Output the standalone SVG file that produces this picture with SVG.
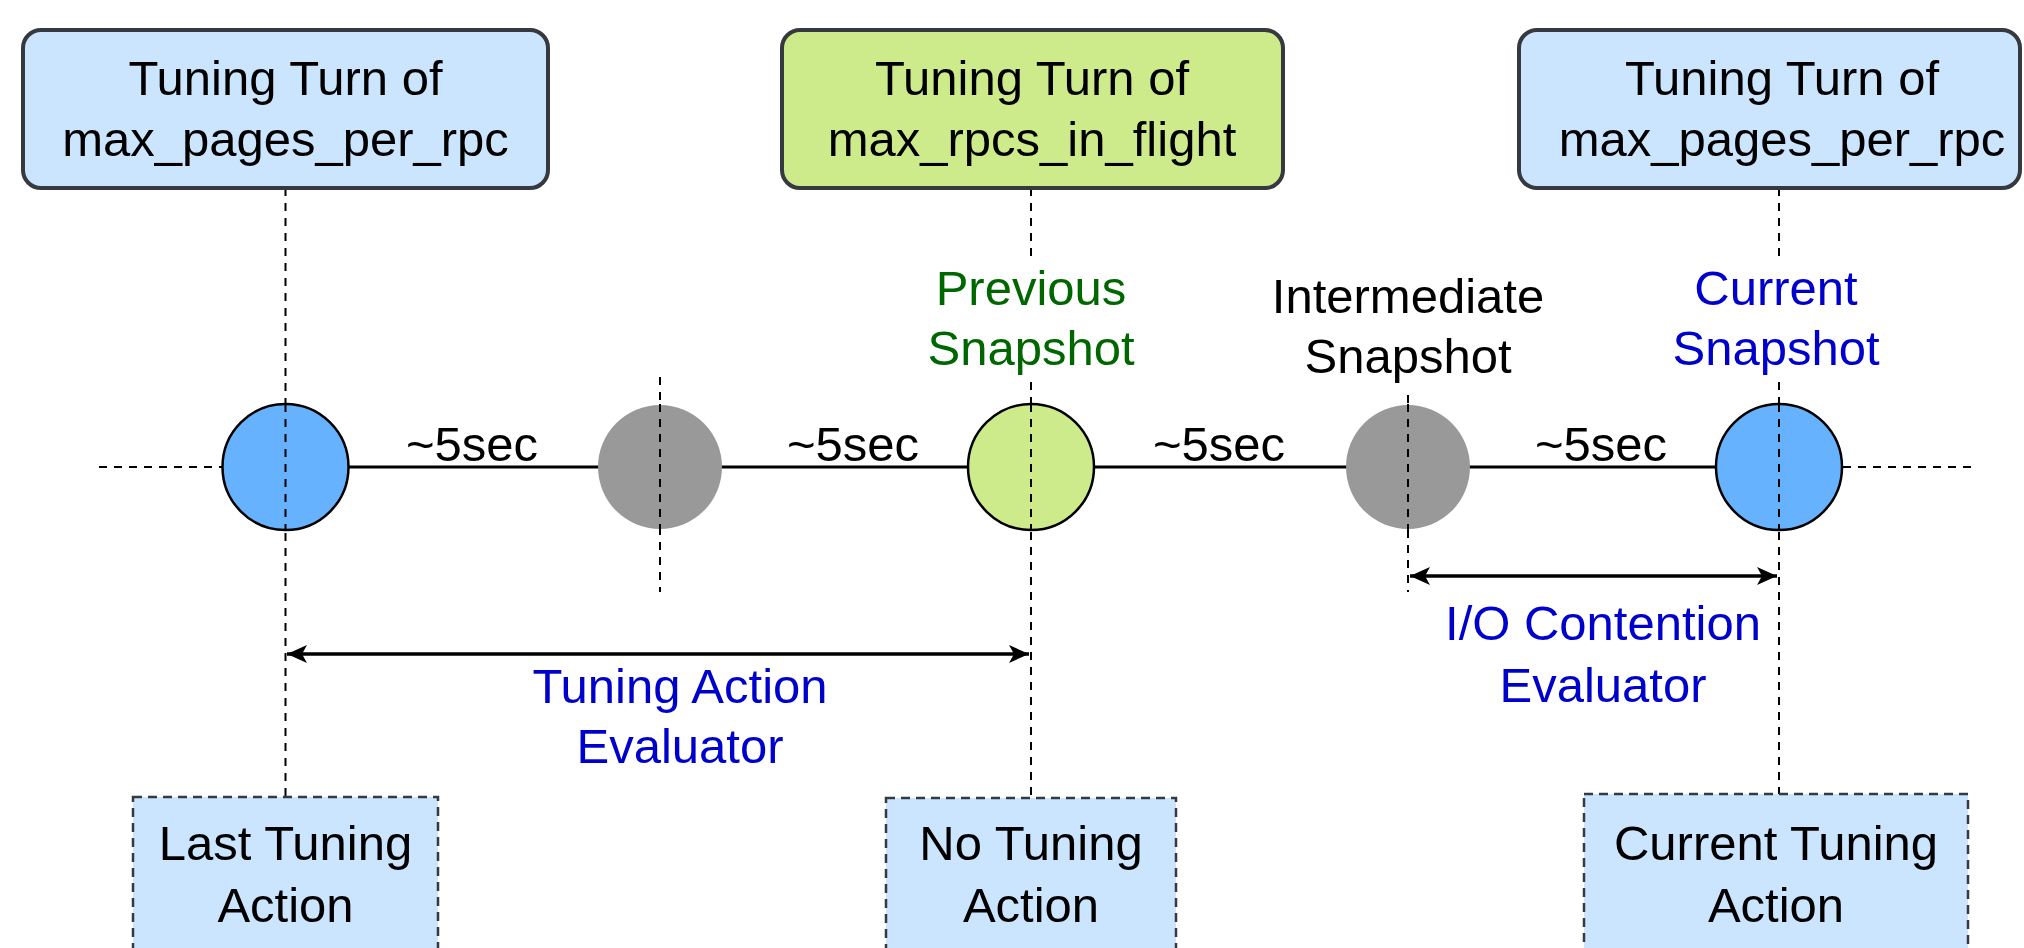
<svg xmlns="http://www.w3.org/2000/svg" width="2024" height="948" viewBox="0 0 2024 948">
  <style>
    text { font-family: "Liberation Sans", Arial, Helvetica, sans-serif; font-size: 49px; text-anchor: middle; fill: #000000; }
    .turn { stroke: #36393d; stroke-width: 4; }
    .turn-blue { fill: #cce5ff; }
    .turn-green { fill: #cdeb8b; }
    .action { fill: #cce5ff; stroke: #36393d; stroke-width: 2.5; stroke-dasharray: 9 6; }
    .guide { fill: none; stroke: #000000; stroke-width: 2; stroke-dasharray: 8 7; }
    .axis { fill: none; stroke: #000000; stroke-width: 3; }
    .span { fill: none; stroke: #000000; stroke-width: 3.5; marker-start: url(#head-start); marker-end: url(#head-end); }
    .snap-blue { fill: #66b2ff; stroke: #000000; stroke-width: 2.5; }
    .snap-green { fill: #cdeb8b; stroke: #000000; stroke-width: 2.5; }
    .snap-gray { fill: #999999; }
    .green { fill: #006600; }
    .blue { fill: #0000cc; }
  </style>
  <defs>
    <marker id="head-end" markerUnits="userSpaceOnUse" markerWidth="22" markerHeight="20" refX="20" refY="10" orient="auto">
      <path d="M0,1 L20,10 L0,19 L5,10 Z" fill="#000000"/>
    </marker>
    <marker id="head-start" markerUnits="userSpaceOnUse" markerWidth="22" markerHeight="20" refX="2" refY="10" orient="auto">
      <path d="M22,1 L2,10 L22,19 L17,10 Z" fill="#000000"/>
    </marker>
  </defs>

  <rect width="2024" height="948" fill="#ffffff"/>

  <!-- connectors: time axis, guide lines and evaluation spans -->
  <g id="connectors">
    <line class="axis" x1="285.5" y1="467" x2="1779" y2="467"/>
    <line class="guide" x1="99" y1="467" x2="223" y2="467"/>
    <line class="guide" x1="1843" y1="467" x2="1972" y2="467"/>

    <line class="guide" x1="285.5" y1="188" x2="285.5" y2="797"/>
    <line class="guide" x1="660" y1="377" x2="660" y2="592"/>
    <line class="guide" x1="1031" y1="188" x2="1031" y2="256"/>
    <line class="guide" x1="1031" y1="382" x2="1031" y2="797"/>
    <line class="guide" x1="1408" y1="395" x2="1408" y2="592"/>
    <line class="guide" x1="1779" y1="188" x2="1779" y2="256"/>
    <line class="guide" x1="1779" y1="382" x2="1779" y2="797"/>

    <line class="span" x1="287" y1="654" x2="1029" y2="654"/>
    <line class="span" x1="1410" y1="576" x2="1777" y2="576"/>
  </g>

  <!-- tuning turns -->
  <g id="turn-pages-1">
    <rect class="turn turn-blue" x="23" y="30" width="525" height="158" rx="18"/>
    <text x="285.5" y="95">Tuning Turn of</text>
    <text x="285.5" y="156">max_pages_per_rpc</text>
  </g>
  <g id="turn-rpcs">
    <rect class="turn turn-green" x="782" y="30" width="501" height="158" rx="18"/>
    <text x="1032" y="95">Tuning Turn of</text>
    <text x="1032" y="156">max_rpcs_in_flight</text>
  </g>
  <g id="turn-pages-2">
    <rect class="turn turn-blue" x="1519" y="30" width="501" height="158" rx="18"/>
    <text x="1782" y="95">Tuning Turn of</text>
    <text x="1782" y="156">max_pages_per_rpc</text>
  </g>

  <!-- snapshots on the time axis -->
  <g id="snapshot-last">
    <circle class="snap-blue" cx="285.5" cy="467" r="63"/>
  </g>
  <g id="snapshot-gray-1">
    <circle class="snap-gray" cx="660" cy="467" r="62"/>
  </g>
  <g id="snapshot-previous">
    <circle class="snap-green" cx="1031" cy="467" r="63"/>
    <text class="green" x="1031" y="305">Previous</text>
    <text class="green" x="1031" y="365">Snapshot</text>
  </g>
  <g id="snapshot-intermediate">
    <circle class="snap-gray" cx="1408" cy="467" r="62"/>
    <text x="1408" y="313">Intermediate</text>
    <text x="1408" y="373">Snapshot</text>
  </g>
  <g id="snapshot-current">
    <circle class="snap-blue" cx="1779" cy="467" r="63"/>
    <text class="blue" x="1776" y="305">Current</text>
    <text class="blue" x="1776" y="365">Snapshot</text>
  </g>

  <!-- re-draw the guides over the snapshot circles -->
  <g id="guides-over">
    <line class="guide" x1="285.5" y1="404" x2="285.5" y2="530"/>
    <line class="guide" x1="660" y1="404" x2="660" y2="530"/>
    <line class="guide" x1="1031" y1="404" x2="1031" y2="530"/>
    <line class="guide" x1="1408" y1="404" x2="1408" y2="530"/>
    <line class="guide" x1="1779" y1="404" x2="1779" y2="530"/>
  </g>

  <!-- interval labels -->
  <g id="intervals">
    <text x="472" y="461">~5sec</text>
    <text x="853" y="461">~5sec</text>
    <text x="1219" y="461">~5sec</text>
    <text x="1601" y="461">~5sec</text>
  </g>

  <!-- evaluators -->
  <g id="eval-tuning-action">
    <text class="blue" x="680" y="703">Tuning Action</text>
    <text class="blue" x="680" y="763">Evaluator</text>
  </g>
  <g id="eval-io-contention">
    <text class="blue" x="1603" y="640">I/O Contention</text>
    <text class="blue" x="1603" y="702">Evaluator</text>
  </g>

  <!-- tuning actions -->
  <g id="action-last">
    <rect class="action" x="133" y="797" width="305" height="170"/>
    <text x="285.5" y="860">Last Tuning</text>
    <text x="285.5" y="922">Action</text>
  </g>
  <g id="action-none">
    <rect class="action" x="886" y="798" width="290" height="170"/>
    <text x="1031" y="860">No Tuning</text>
    <text x="1031" y="922">Action</text>
  </g>
  <g id="action-current">
    <rect class="action" x="1584" y="794" width="384" height="170"/>
    <text x="1776" y="860">Current Tuning</text>
    <text x="1776" y="922">Action</text>
  </g>
</svg>
